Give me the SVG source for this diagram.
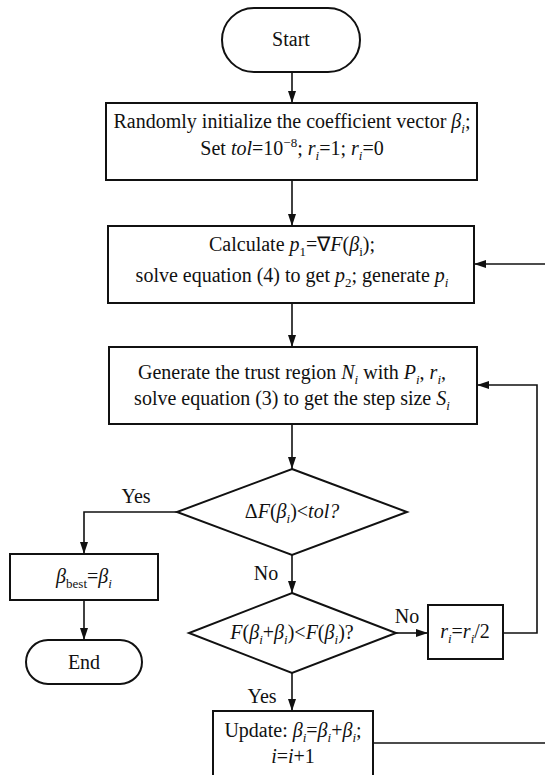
<svg xmlns="http://www.w3.org/2000/svg" width="545" height="775" viewBox="0 0 545 775">
<style>
.t{font-family:"Liberation Serif","Times New Roman",serif;font-size:20px;fill:#111;}
.it{font-style:italic;}
.s{font-size:13px;}
.shape{fill:#fff;stroke:#111;stroke-width:2;}
.c{fill:none;stroke:#111;stroke-width:1.6;}
.lbl{font-family:"Liberation Serif","Times New Roman",serif;font-size:20px;fill:#111;}
</style>
<defs>
<marker id="ah" viewBox="0 0 12 8" refX="12" refY="4" markerWidth="12" markerHeight="8" markerUnits="userSpaceOnUse" orient="auto">
<path d="M0,0 L12,4 L0,8 z" fill="#111"/>
</marker>
</defs>
<rect width="545" height="775" fill="#fff"/>
<g id="connectors">
<line class="c" x1="292" y1="72" x2="292" y2="103" marker-end="url(#ah)"/>
<line class="c" x1="292" y1="180" x2="292" y2="226" marker-end="url(#ah)"/>
<line class="c" x1="292" y1="303" x2="292" y2="347" marker-end="url(#ah)"/>
<line class="c" x1="292" y1="424" x2="292" y2="469" marker-end="url(#ah)"/>
<polyline class="c" points="177,512 84,512 84,554" marker-end="url(#ah)"/>
<line class="c" x1="84" y1="600" x2="84" y2="640" marker-end="url(#ah)"/>
<line class="c" x1="292" y1="555" x2="292" y2="593" marker-end="url(#ah)"/>
<line class="c" x1="396" y1="633" x2="428" y2="633" marker-end="url(#ah)"/>
<polyline class="c" points="503,633 537,633 537,385 477,385" marker-end="url(#ah)"/>
<line class="c" x1="292" y1="673" x2="292" y2="711" marker-end="url(#ah)"/>
<line class="c" x1="373" y1="743" x2="545" y2="743"/>
<line class="c" x1="545" y1="264" x2="474" y2="264" marker-end="url(#ah)"/>
</g>
<g id="labels">
<text class="lbl" x="136" y="503" text-anchor="middle">Yes</text>
<text class="lbl" x="266" y="580" text-anchor="middle">No</text>
<text class="lbl" x="407" y="623" text-anchor="middle">No</text>
<text class="lbl" x="262" y="703" text-anchor="middle">Yes</text>
</g>
<g id="start">
<rect class="shape" x="222" y="8" width="138" height="64" rx="32"/>
<text class="t" x="291" y="46" text-anchor="middle">Start</text>
</g>
<g id="init">
<rect class="shape" x="106" y="103" width="371" height="77"/>
<text class="t" x="292" y="128" text-anchor="middle">Randomly initialize the coefficient vector <tspan class="it">β</tspan><tspan class="s it" dy="5">i</tspan><tspan dy="-5">;</tspan></text>
<text class="t" x="292" y="155" text-anchor="middle">Set <tspan class="it">tol</tspan>=10<tspan class="s" dy="-8">−8</tspan><tspan dy="8">; </tspan><tspan class="it">r</tspan><tspan class="s it" dy="5">i</tspan><tspan dy="-5">=1; </tspan><tspan class="it">r</tspan><tspan class="s it" dy="5">i</tspan><tspan dy="-5">=0</tspan></text>
</g>
<g id="calc">
<rect class="shape" x="108" y="226" width="366" height="77"/>
<text class="t" x="292" y="251" text-anchor="middle">Calculate <tspan class="it">p</tspan><tspan class="s" dy="5">1</tspan><tspan dy="-5">=∇</tspan><tspan class="it">F</tspan>(<tspan class="it">β</tspan><tspan class="s" dy="5">i</tspan><tspan dy="-5">);</tspan></text>
<text class="t" x="292" y="282" text-anchor="middle">solve equation (4) to get <tspan class="it">p</tspan><tspan class="s" dy="5">2</tspan><tspan dy="-5">; generate </tspan><tspan class="it">p</tspan><tspan class="s it" dy="5">i</tspan></text>
</g>
<g id="trust">
<rect class="shape" x="109" y="347" width="368" height="77"/>
<text class="t" x="292" y="379" text-anchor="middle">Generate the trust region <tspan class="it">N</tspan><tspan class="s it" dy="5">i</tspan><tspan dy="-5"> with </tspan><tspan class="it">P</tspan><tspan class="s it" dy="5">i</tspan><tspan dy="-5">, </tspan><tspan class="it">r</tspan><tspan class="s it" dy="5">i</tspan><tspan dy="-5">,</tspan></text>
<text class="t" x="292" y="405" text-anchor="middle">solve equation (3) to get the step size <tspan class="it">S</tspan><tspan class="s it" dy="5">i</tspan></text>
</g>
<g id="check1">
<polygon class="shape" points="292,469 407,512 292,555 177,512"/>
<text class="t" x="292" y="518" text-anchor="middle">Δ<tspan class="it">F</tspan>(<tspan class="it">β</tspan><tspan class="s it" dy="5">i</tspan><tspan dy="-5">)&lt;</tspan><tspan class="it">tol?</tspan></text>
</g>
<g id="best">
<rect class="shape" x="10" y="554" width="148" height="46"/>
<text class="t" x="84" y="583" text-anchor="middle"><tspan class="it">β</tspan><tspan class="s" dy="5">best</tspan><tspan dy="-5">=</tspan><tspan class="it">β</tspan><tspan class="s it" dy="5">i</tspan></text>
</g>
<g id="end">
<rect class="shape" x="26" y="640" width="116" height="44" rx="22"/>
<text class="t" x="84" y="669" text-anchor="middle">End</text>
</g>
<g id="check2">
<polygon class="shape" points="292,593 396,633 292,673 189,633"/>
<text class="t" x="292" y="639" text-anchor="middle"><tspan class="it">F</tspan>(<tspan class="it">β</tspan><tspan class="s it" dy="5">i</tspan><tspan dy="-5">+</tspan><tspan class="it">β</tspan><tspan class="s it" dy="5">i</tspan><tspan dy="-5">)&lt;</tspan><tspan class="it">F</tspan>(<tspan class="it">β</tspan><tspan class="s it" dy="5">i</tspan><tspan dy="-5">)?</tspan></text>
</g>
<g id="halve">
<rect class="shape" x="428" y="605" width="75" height="54"/>
<text class="t" x="465" y="638" text-anchor="middle"><tspan class="it">r</tspan><tspan class="s it" dy="5">i</tspan><tspan dy="-5">=</tspan><tspan class="it">r</tspan><tspan class="s it" dy="5">i</tspan><tspan dy="-5">/2</tspan></text>
</g>
<g id="update">
<rect class="shape" x="213" y="711" width="160" height="80"/>
<text class="t" x="293" y="737" text-anchor="middle">Update: <tspan class="it">β</tspan><tspan class="s it" dy="5">i</tspan><tspan dy="-5">=</tspan><tspan class="it">β</tspan><tspan class="s it" dy="5">i</tspan><tspan dy="-5">+</tspan><tspan class="it">β</tspan><tspan class="s it" dy="5">i</tspan><tspan dy="-5">;</tspan></text>
<text class="t" x="293" y="763" text-anchor="middle"><tspan class="it">i</tspan>=<tspan class="it">i</tspan>+1</text>
</g>
</svg>
